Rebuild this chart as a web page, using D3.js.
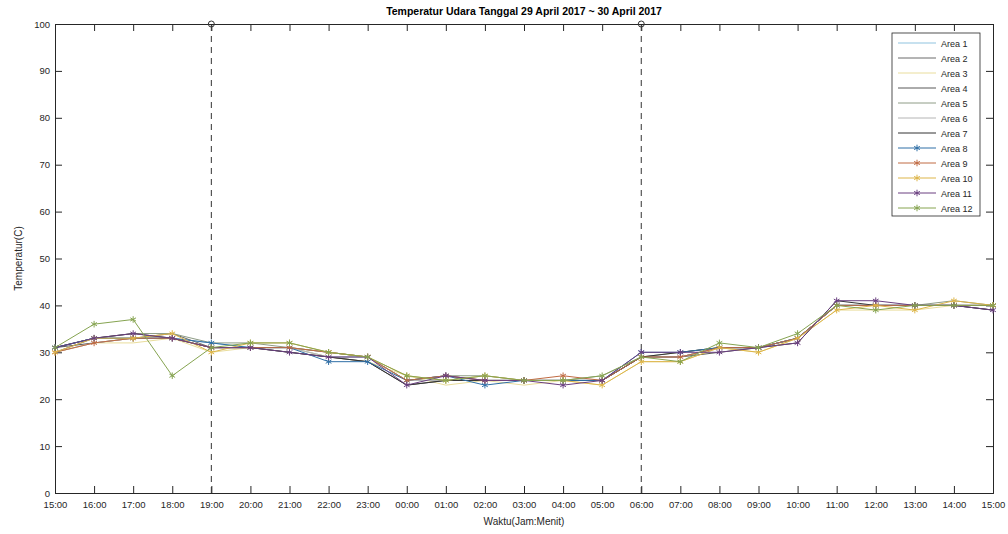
<!doctype html>
<html lang="en">
<head>
<meta charset="utf-8">
<title>Temperatur Udara</title>
<script src="https://d3js.org/d3.v7.min.js"></script>
<style>
  body { margin: 0; background: #fff; }
  text { font-family: "Liberation Sans", Arial, sans-serif; }
</style>
</head>
<body>
<svg class="chart"></svg>
<script>
// hourly readings, 29 Apr 15:00 -> 30 Apr 15:00
var hours = ["15:00","16:00","17:00","18:00","19:00","20:00","21:00","22:00","23:00",
  "00:00","01:00","02:00","03:00","04:00","05:00","06:00","07:00","08:00","09:00",
  "10:00","11:00","12:00","13:00","14:00","15:00"];

var area1  = [31,33,33,33,32,31,31,29,29,24,24,24,24,24,24,29,29,31,31,33,40,40,40,40,40];
var area2  = [30,33,33,34,31,31,31,30,29,24,25,24,24,24,24,29,29,31,31,33,40,40,40,40,40];
var area3  = [30,32,32,33,30,31,31,29,28,25,23,24,23,24,23,28,28,31,30,33,39,39,39,40,40];
var area4  = [31,32,33,33,31,31,30,29,28,23,24,24,24,24,24,29,29,30,31,33,40,40,40,40,39];
var area5  = [31,33,34,34,32,32,31,30,29,24,25,25,24,24,25,29,30,31,31,33,40,40,40,41,40];
var area6  = [30,32,33,33,31,31,31,29,29,24,24,24,24,24,24,29,29,31,31,33,40,40,40,40,40];
var area7  = [31,33,34,33,31,31,30,29,28,23,24,24,24,24,24,29,30,31,31,32,41,40,40,40,39];
var area8  = [31,33,33,33,32,31,31,28,28,24,25,23,24,24,24,30,30,31,31,33,40,40,40,40,40];
var area9  = [30,32,33,33,31,31,31,30,29,24,25,24,24,25,24,29,29,31,31,33,40,40,40,40,40];
var area10 = [30,33,33,34,30,32,32,30,29,25,24,25,24,24,23,28,28,31,30,33,39,40,39,41,40];
var area11 = [31,33,34,33,31,31,30,29,29,23,25,24,24,23,24,30,30,30,31,32,41,41,40,40,39];
var area12 = [31,36,37,25,31,32,32,30,29,25,24,25,24,24,25,29,28,32,31,34,40,39,40,40,40];

var names = ["Area 1","Area 2","Area 3","Area 4","Area 5","Area 6","Area 7",
  "Area 8","Area 9","Area 10","Area 11","Area 12"];
var values = [area1,area2,area3,area4,area5,area6,area7,area8,area9,area10,area11,area12];
var withMarker = [false,false,false,false,false,false,false,true,true,true,true,true];
var colors = ["#8fc3df","#6a6a6a","#e9dd9c","#585858","#8e9c86","#b4b4b4","#333333",
  "#2f6fa6","#c06a42","#ddb548","#6a3f80","#86a451"];

var yTicks = [0,10,20,30,40,50,60,70,80,90,100];
var markLines = ["19:00","06:00"];

var width = 1008, height = 534;
var pLeft = 55, pRight = 993, pTop = 24, pBottom = 493;

var svg = d3.select(".chart").attr("width", width).attr("height", height);

var x = d3.scaleLinear().domain([0, hours.length - 1]).range([pLeft, pRight]);
var y = d3.scaleLinear().domain([0, 100]).range([pBottom, pTop]);

// axes on all four sides, ticks inward like matlab
var tk = 7;
var axisColor = "#262626";
svg.append("g").attr("transform", "translate(0," + pBottom + ")")
  .call(d3.axisBottom(x).tickValues(d3.range(hours.length)).tickFormat(function(i) { return hours[i]; }).tickSize(-tk).tickPadding(8));
svg.append("g").attr("transform", "translate(0," + pTop + ")")
  .call(d3.axisTop(x).tickValues(d3.range(hours.length)).tickFormat("").tickSize(-tk));
svg.append("g").attr("transform", "translate(" + pLeft + ",0)")
  .call(d3.axisLeft(y).tickValues(yTicks).tickSize(-tk).tickPadding(5));
svg.append("g").attr("transform", "translate(" + pRight + ",0)")
  .call(d3.axisRight(y).tickValues(yTicks).tickFormat("").tickSize(-tk));

svg.selectAll(".domain").attr("stroke", axisColor).attr("stroke-width", 1);
svg.selectAll(".tick line").attr("stroke", axisColor);
svg.selectAll(".tick text").attr("fill", axisColor).style("font-size", "9.5px");

// dashed markers for 19:00 and 06:00
markLines.forEach(function(h) {
  var i = hours.indexOf(h);
  svg.append("line")
    .attr("x1", x(i)).attr("x2", x(i))
    .attr("y1", y(0)).attr("y2", y(100))
    .attr("stroke", "#333").attr("stroke-width", 1)
    .attr("stroke-dasharray", "6,5");
  svg.append("circle")
    .attr("cx", x(i)).attr("cy", y(100)).attr("r", 3)
    .attr("fill", "none").attr("stroke", "#333");
});

var line = d3.line().x(function(d, i) { return x(i); }).y(function(d) { return y(d); });
var star = d3.symbol().type(d3.symbolAsterisk).size(30);

values.forEach(function(v, k) {
  svg.append("path").datum(v)
    .attr("d", line)
    .attr("fill", "none")
    .attr("stroke", colors[k])
    .attr("stroke-width", 1);
  if (withMarker[k]) {
    svg.append("g").selectAll("path").data(v).enter().append("path")
      .attr("d", star)
      .attr("transform", function(d, i) { return "translate(" + x(i) + "," + y(d) + ")"; })
      .attr("fill", "none")
      .attr("stroke", colors[k]);
  }
});

// legend
var lg = svg.append("g").attr("transform", "translate(892,33)");
lg.append("rect").attr("width", 88).attr("height", 183)
  .attr("fill", "#fff").attr("stroke", axisColor).attr("stroke-width", 0.8);
names.forEach(function(n, k) {
  var yy = 10 + k * 15;
  lg.append("line").attr("x1", 6).attr("x2", 44).attr("y1", yy).attr("y2", yy)
    .attr("stroke", colors[k]).attr("stroke-width", 1);
  if (withMarker[k]) {
    lg.append("path").attr("d", star).attr("transform", "translate(25," + yy + ")")
      .attr("fill", "none").attr("stroke", colors[k]);
  }
  lg.append("text").attr("x", 49).attr("y", yy + 3.5)
    .attr("fill", axisColor).style("font-size", "9px").text(n);
});

// titles
svg.append("text").attr("x", (pLeft + pRight) / 2).attr("y", 15)
  .attr("text-anchor", "middle").attr("fill", "#000")
  .style("font-size", "10.5px").style("font-weight", "bold")
  .text("Temperatur Udara Tanggal 29 April 2017 ~ 30 April 2017");
svg.append("text").attr("x", (pLeft + pRight) / 2).attr("y", 525)
  .attr("text-anchor", "middle").attr("fill", axisColor)
  .style("font-size", "10px").text("Waktu(Jam:Menit)");
svg.append("text").attr("transform", "translate(22," + ((pTop + pBottom) / 2) + ") rotate(-90)")
  .attr("text-anchor", "middle").attr("fill", axisColor)
  .style("font-size", "10px").text("Temperatur(C)");
</script>
</body>
</html>
